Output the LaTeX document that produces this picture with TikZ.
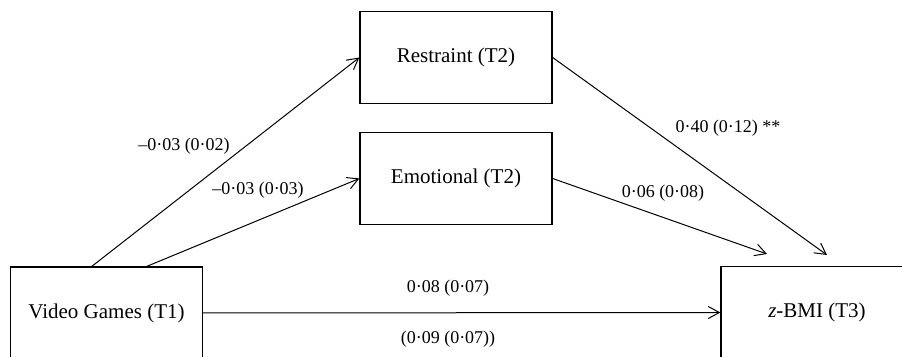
\documentclass[tikz,border=0pt]{standalone}
\usepackage{fontspec}
\setmainfont{Liberation Serif}
\usetikzlibrary{arrows.meta}
\tikzset{
  varbox/.style={draw, line width=0.65pt, minimum width=96pt, minimum height=46pt, inner sep=0pt, font=\fontsize{10.5}{12}\selectfont},
  path/.style={line width=0.5pt, -{Straight Barb[length=5.5pt,width=6pt,line width=0.5pt]}},
  coef/.style={inner sep=0pt, font=\fontsize{9}{11}\selectfont}
}
\begin{document}
\begin{tikzpicture}[x=0.5pt,y=-0.5pt]
\clip (0,0) rectangle (902,357);
\node[varbox] (res) at (456,57.5) {Restraint (T2)};
\node[varbox] (emo) at (456,178.5) {Emotional (T2)};
\node[varbox] (vg) at (106.5,313) {Video Games (T1)};
\node[varbox] (zb) at (817,312.5) {\textit{z}-BMI (T3)};
\coordinate (tipR) at (827,255);
\coordinate (tipE) at (767,254);
\draw[path] ([xshift=41pt]vg.north west) -- (res.west);
\draw[path] ([xshift=68.5pt]vg.north west) -- (emo.west);
\draw[path] (vg.east) -- (zb.west);
\draw[path] (res.east) -- (tipR);
\draw[path] (emo.east) -- (tipE);
\node[coef] (l1) at (184,146) {–0·03 (0·02)};
\node[coef] (l2) at (258,190) {–0·03 (0·03)};
\node[coef] (l3) at (728,128) {0·40 (0·12) **};
\node[coef] (l4) at (663,193) {0·06 (0·08)};
\node[coef] (l5) at (448,288) {0·08 (0·07)};
\node[coef] (l6) at (448,339) {(0·09 (0·07))};
\end{tikzpicture}
\end{document}
